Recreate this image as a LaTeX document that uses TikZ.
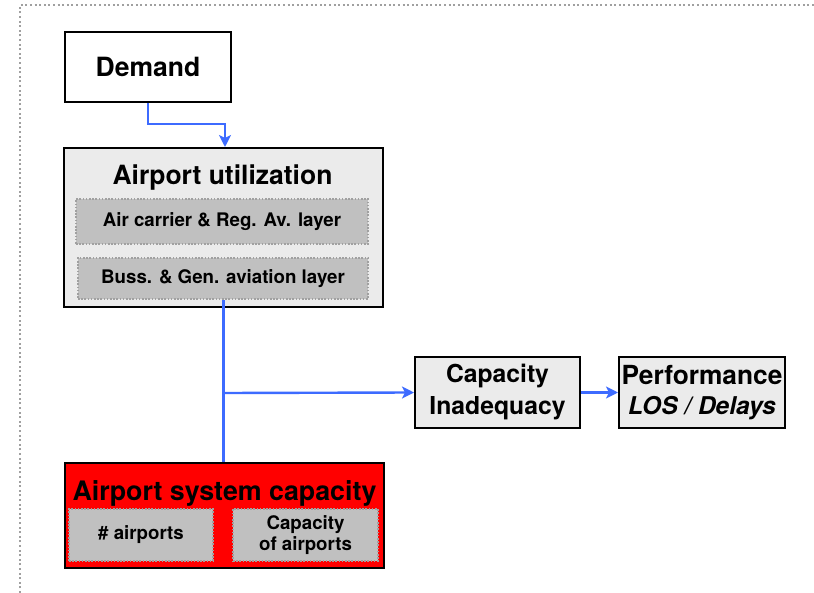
\documentclass[tikz,border=0pt]{standalone}
\usepackage{fontspec}
\setmainfont{TeX Gyre Heros}
\usetikzlibrary{arrows.meta}
\definecolor{boxgray}{HTML}{EBEBEB}
\definecolor{subgray}{HTML}{C0C0C0}
\definecolor{dotgray}{HTML}{A0A0A0}
\definecolor{arrblue}{HTML}{3D6BFF}
\definecolor{sysred}{HTML}{FF0000}
\tikzset{
  mainbox/.style={draw=black, line width=2pt, inner sep=0pt},
  subbox/.style={draw=dotgray, fill=subgray, line width=1.6pt, dash pattern=on 1.6pt off 1.6pt, inner sep=0pt, align=center, font=\fontsize{18.7}{20.5}\selectfont\bfseries},
  bigtxt/.style={font=\fontsize{26.5}{30}\selectfont\bfseries, inner sep=0pt},
  conn/.style={draw=arrblue, line width=2.4pt},
  arr/.style={conn, -{Stealth[length=12pt,width=12pt,inset=3pt]}},
  frame/.style={draw=dotgray, line width=2pt, dash pattern=on 2pt off 2.6pt}
}
\begin{document}
\begin{tikzpicture}[x=1pt,y=-1pt]
\useasboundingbox (0,0) rectangle (814,593);
% outer dotted frame
\draw[frame] (20,593) -- (20,5) -- (814,5);

% Demand
\node[mainbox, fill=white, minimum width=166pt, minimum height=70pt, bigtxt] (demand) at (148,67) {Demand};

% Airport utilization
\node[mainbox, fill=boxgray, minimum width=319pt, minimum height=159pt] (util) at (223.5,227.5) {};
\node[bigtxt, anchor=base] (utiltitle) at (222.5,185) {Airport utilization};
\node[subbox, minimum width=292pt, minimum height=45pt] (sub1) at (222,221.5) {Air carrier \& Reg. Av. layer};
\node[subbox, minimum width=290pt, minimum height=41pt] (sub2) at (223,278.5) {Buss. \& Gen. aviation layer};

% Capacity inadequacy
\node[mainbox, fill=boxgray, minimum width=165pt, minimum height=71pt, align=center, font=\fontsize{24.7}{32}\selectfont\bfseries] (inad) at (497.5,392.5) {Capacity\\Inadequacy};

% Performance
\node[mainbox, fill=boxgray, minimum width=166pt, minimum height=71pt, align=center, font=\fontsize{26.3}{29.5}\selectfont\bfseries] (perf) at (702,392.5) {Performance\\{\itshape\fontsize{24.5}{29.5}\selectfont LOS / Delays}};

% Airport system capacity
\node[mainbox, fill=sysred, minimum width=319pt, minimum height=105pt] (sysc) at (224.5,515.5) {};
\node[font=\fontsize{26.8}{30}\selectfont\bfseries, inner sep=0pt, anchor=base] (systitle) at (224.5,500) {Airport system capacity};
\node[subbox, minimum width=144pt, minimum height=52pt] (sub3) at (141,535) {\# airports};
\node[subbox, minimum width=145pt, minimum height=52pt] (sub4) at (305.5,535) {Capacity\\of airports};

% connectors
\coordinate (j1) at (225,124);
\coordinate (j2) at (223.5,393);
\draw[arr] (demand.south) |- (j1) -- (j1 |- util.north);
\draw[conn] (sub2.south -| j2) -- (j2);
\draw[conn] (sysc.north -| j2) -- (j2);
\draw[arr] (j2) -- (inad.west);
\draw[arr] (inad.east) -- (perf.west);
\end{tikzpicture}
\end{document}
